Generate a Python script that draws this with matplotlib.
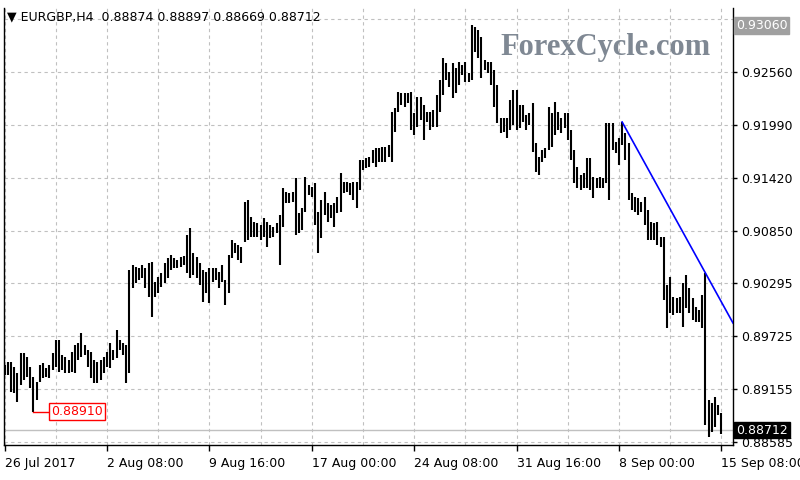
import matplotlib.pyplot as plt
from matplotlib.transforms import blended_transform_factory

symbol = "EURGBP,H4"
last_ohlc = [0.88874, 0.88897, 0.88669, 0.88712]

high = [
    0.8941, 0.8944, 0.8944, 0.8939, 0.8932, 0.8954, 0.8954, 0.8950, 0.8939, 0.8928,
    0.8923, 0.8941, 0.8943, 0.8938, 0.8941, 0.8954, 0.8968, 0.8968, 0.8952, 0.8950,
    0.8946, 0.8955, 0.8962, 0.8965, 0.8975, 0.8962, 0.8957, 0.8955, 0.8946, 0.8944,
    0.8946, 0.8950, 0.8955, 0.8965, 0.8957, 0.8979, 0.8968, 0.8965, 0.8962, 0.9043,
    0.9048, 0.9046, 0.9045, 0.9048, 0.9045, 0.9051, 0.9052, 0.9030, 0.9036, 0.9040,
    0.9051, 0.9056, 0.9059, 0.9056, 0.9054, 0.9057, 0.9058, 0.9081, 0.9088, 0.9061,
    0.9057, 0.9051, 0.9043, 0.9041, 0.9045, 0.9045, 0.9045, 0.9041, 0.9048, 0.9032,
    0.9059, 0.9075, 0.9072, 0.9070, 0.9068, 0.9116, 0.9118, 0.9100, 0.9095, 0.9093,
    0.9091, 0.9099, 0.9095, 0.9091, 0.9089, 0.9093, 0.9102, 0.9131, 0.9127, 0.9126,
    0.9127, 0.9142, 0.9104, 0.9110, 0.9143, 0.9134, 0.9132, 0.9136, 0.9105, 0.9118,
    0.9127, 0.9115, 0.9113, 0.9115, 0.9121, 0.9147, 0.9138, 0.9138, 0.9136, 0.9138,
    0.9138, 0.9161, 0.9161, 0.9163, 0.9164, 0.9172, 0.9174, 0.9174, 0.9175, 0.9175,
    0.9177, 0.9213, 0.9217, 0.9234, 0.9233, 0.9233, 0.9233, 0.9234, 0.9212, 0.9229,
    0.9229, 0.9220, 0.9213, 0.9213, 0.9215, 0.9231, 0.9247, 0.9271, 0.9265, 0.9256,
    0.9265, 0.9260, 0.9266, 0.9263, 0.9266, 0.9255, 0.9306, 0.9304, 0.9301, 0.9293,
    0.9269, 0.9266, 0.9266, 0.9258, 0.9242, 0.9206, 0.9206, 0.9206, 0.9226, 0.9236,
    0.9236, 0.9220, 0.9220, 0.9209, 0.9212, 0.9222, 0.9179, 0.9164, 0.9172, 0.9174,
    0.9218, 0.9212, 0.9223, 0.9213, 0.9206, 0.9212, 0.9212, 0.9193, 0.9172, 0.9154,
    0.9145, 0.9147, 0.9163, 0.9163, 0.9143, 0.9142, 0.9143, 0.9142, 0.9201, 0.9201,
    0.9201, 0.9180, 0.9185, 0.9202, 0.9190, 0.9179, 0.9126, 0.9121, 0.9120, 0.9116,
    0.9121, 0.9107, 0.9095, 0.9093, 0.9095, 0.9078, 0.9078, 0.9027, 0.9036, 0.9014,
    0.9013, 0.9014, 0.9029, 0.9038, 0.9024, 0.9013, 0.9003, 0.9000, 0.9016, 0.9040,
    0.8903, 0.8900, 0.8907, 0.8898, 0.88897,
]

low = [
    0.8930, 0.8930, 0.8912, 0.8911, 0.8901, 0.8920, 0.8925, 0.8928, 0.8916, 0.8891,
    0.8903, 0.8923, 0.8927, 0.8928, 0.8927, 0.8936, 0.8939, 0.8933, 0.8936, 0.8932,
    0.8932, 0.8933, 0.8932, 0.8946, 0.8950, 0.8952, 0.8939, 0.8927, 0.8922, 0.8922,
    0.8925, 0.8932, 0.8939, 0.8938, 0.8946, 0.8949, 0.8957, 0.8952, 0.8922, 0.8932,
    0.9024, 0.9029, 0.9032, 0.9034, 0.9024, 0.9014, 0.8993, 0.9014, 0.9018, 0.9025,
    0.9029, 0.9034, 0.9043, 0.9045, 0.9045, 0.9046, 0.9048, 0.9040, 0.9034, 0.9038,
    0.9034, 0.9027, 0.9009, 0.9018, 0.9008, 0.9030, 0.9032, 0.9024, 0.9030, 0.9005,
    0.9018, 0.9056, 0.9061, 0.9054, 0.9051, 0.9073, 0.9075, 0.9078, 0.9078, 0.9078,
    0.9075, 0.9078, 0.9068, 0.9077, 0.9078, 0.9083, 0.9048, 0.9089, 0.9115, 0.9115,
    0.9116, 0.9081, 0.9083, 0.9086, 0.9105, 0.9124, 0.9121, 0.9091, 0.9061, 0.9077,
    0.9102, 0.9095, 0.9099, 0.9089, 0.9104, 0.9105, 0.9126, 0.9127, 0.9124, 0.9118,
    0.9110, 0.9129, 0.9150, 0.9153, 0.9154, 0.9158, 0.9154, 0.9159, 0.9159, 0.9159,
    0.9164, 0.9159, 0.9191, 0.9213, 0.9220, 0.9218, 0.9222, 0.9193, 0.9188, 0.9197,
    0.9204, 0.9183, 0.9202, 0.9193, 0.9197, 0.9197, 0.9213, 0.9231, 0.9247, 0.9240,
    0.9228, 0.9233, 0.9242, 0.9252, 0.9245, 0.9245, 0.9247, 0.9277, 0.9271, 0.9249,
    0.9258, 0.9255, 0.9242, 0.9218, 0.9201, 0.9190, 0.9191, 0.9185, 0.9193, 0.9199,
    0.9193, 0.9196, 0.9202, 0.9193, 0.9199, 0.9170, 0.9148, 0.9145, 0.9159, 0.9163,
    0.9172, 0.9175, 0.9188, 0.9193, 0.9190, 0.9196, 0.9183, 0.9161, 0.9136, 0.9131,
    0.9129, 0.9131, 0.9131, 0.9129, 0.9120, 0.9131, 0.9131, 0.9131, 0.9136, 0.9118,
    0.9172, 0.9169, 0.9156, 0.9177, 0.9161, 0.9118, 0.9107, 0.9105, 0.9102, 0.9105,
    0.9091, 0.9075, 0.9075, 0.9075, 0.9070, 0.9068, 0.9011, 0.8981, 0.8997, 0.8995,
    0.8997, 0.8997, 0.8982, 0.9002, 0.8997, 0.8989, 0.8987, 0.8987, 0.8981, 0.8877,
    0.8864, 0.8869, 0.8874, 0.8887, 0.88669,
]

price_ticks = [0.92560, 0.91990, 0.91420, 0.90850, 0.90295, 0.89725, 0.89155, 0.88585]
grid_prices = [0.93130] + price_ticks
top_price = 0.93060
last_close = 0.88712
swing_low = 0.88910
swing_low_bar = 9
trend_bars = [193, 219]

time_labels = ["26 Jul 2017", "2 Aug 08:00", "9 Aug 16:00", "17 Aug 00:00",
               "24 Aug 08:00", "31 Aug 16:00", "8 Sep 00:00", "15 Sep 08:00"]
bars_per_label = 32

fig = plt.figure(figsize=(8, 4.8), dpi=100)
ax = fig.add_axes([4 / 800, 35 / 480, 729 / 800, 437 / 480])

xlim = (-0.16, 227.65)
ax.set_xlim(*xlim)
ax.set_ylim(0.88551, 0.93244)

dash = (0, (3, 3))
for p in grid_prices:
    ax.axhline(p, color="#c0c0c0", lw=0.8, ls=dash, zorder=0)
for i in range(0, len(high) + 8, bars_per_label // 2):
    ax.axvline(i, color="#c0c0c0", lw=0.8, ls=dash, zorder=0)

ax.axhline(last_close, color="#c0c0c0", lw=1, zorder=1)

x = list(range(len(high)))
ax.vlines(x, low, high, color="black", lw=1.5, zorder=3)

# trend line through the two highs, run out to the right edge
x0, x1 = trend_bars
y0, y1 = high[x0], high[x1]
yend = y0 + (y1 - y0) * (xlim[1] - x0) / (x1 - x0)
ax.plot([x0, xlim[1]], [y0, yend], color="blue", lw=1.2, zorder=4)

# swing low marker
ax.plot([swing_low_bar, 14.6], [swing_low, swing_low], color="red", lw=1, zorder=4)
ax.text(14.6, swing_low, f"{swing_low:.5f}", color="red", fontsize=9, va="center", ha="left",
        bbox=dict(boxstyle="square,pad=0.15", fc="white", ec="red", lw=1), zorder=5)

ax.yaxis.tick_right()
ax.set_yticks(price_ticks)
ax.set_yticklabels([f"{p:.5f}" for p in price_ticks])
ax.tick_params(axis="y", length=3, width=1, labelsize=9, pad=3)

ticks = [i * bars_per_label for i in range(len(time_labels))]
ax.set_xticks(ticks)
ax.set_xticklabels(time_labels, ha="left")
ax.tick_params(axis="x", length=4, width=1, labelsize=9, pad=5)
for lbl in ax.get_xticklabels():
    lbl.set_x(lbl.get_position()[0])

ax.spines["top"].set_visible(False)
for s in ["left", "right", "bottom"]:
    ax.spines[s].set_linewidth(1)

trans = blended_transform_factory(ax.transAxes, ax.transData)
ax.text(1.004, top_price, f"{top_price:.5f}", transform=trans, color="white", fontsize=9,
        va="center", ha="left", clip_on=False, zorder=6,
        bbox=dict(boxstyle="square,pad=0.15", fc="#a0a0a0", ec="#a0a0a0"))
ax.text(1.004, last_close, f"{last_close:.5f}", transform=trans, color="white", fontsize=9,
        va="center", ha="left", clip_on=False, zorder=6,
        bbox=dict(boxstyle="square,pad=0.15", fc="black", ec="black"))

header = "\u25bc " + symbol + "  " + " ".join(f"{v:.5f}" for v in last_ohlc)
fig.text(7 / 800, 1 - 17 / 480, header, fontsize=9, va="center", ha="left")

fig.text(500 / 800, 1 - 48 / 480, "ForexCycle.com", family="Liberation Serif",
         weight="bold", fontsize=22, color="#7f8893", va="center", ha="left")

fig.savefig("out.png", dpi=100)
